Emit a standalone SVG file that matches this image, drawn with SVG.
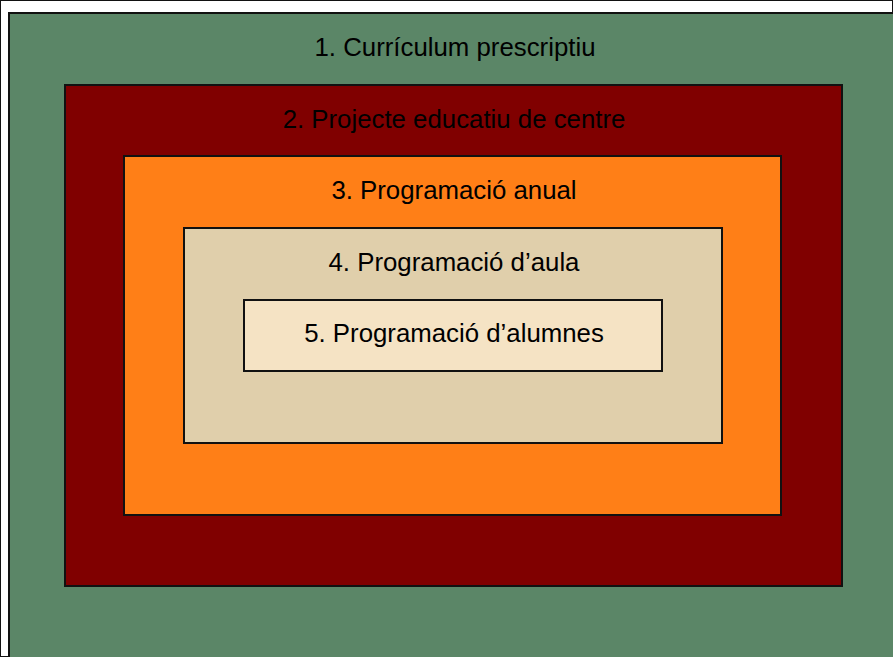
<svg xmlns="http://www.w3.org/2000/svg" width="893" height="657" viewBox="0 0 893 657">
<style>
rect{stroke:#111;stroke-width:2}
text{font-family:"Liberation Sans",Arial,sans-serif;font-size:25.8px;fill:#000;text-anchor:middle}
</style>
<rect x="0" y="0" width="893" height="657" fill="#fff" stroke="none"/>
<g id="n1"><rect x="9" y="13" width="900" height="660" fill="#5b8667"/><text x="455" y="56">1. Currículum prescriptiu</text></g>
<g id="n2"><rect x="65" y="85" width="777" height="501" fill="#800000"/><text x="454" y="128">2. Projecte educatiu de centre</text></g>
<g id="n3"><rect x="124" y="156" width="657" height="359" fill="#ff7f17"/><text x="454" y="199">3. Programació anual</text></g>
<g id="n4"><rect x="184" y="228" width="538" height="215" fill="#e0cfab"/><text x="454" y="271">4. Programació d’aula</text></g>
<g id="n5"><rect x="244" y="300" width="418" height="71" fill="#f5e3c4"/><text x="454" y="342">5. Programació d’alumnes</text></g>
<g id="connectors"/>
</svg>
